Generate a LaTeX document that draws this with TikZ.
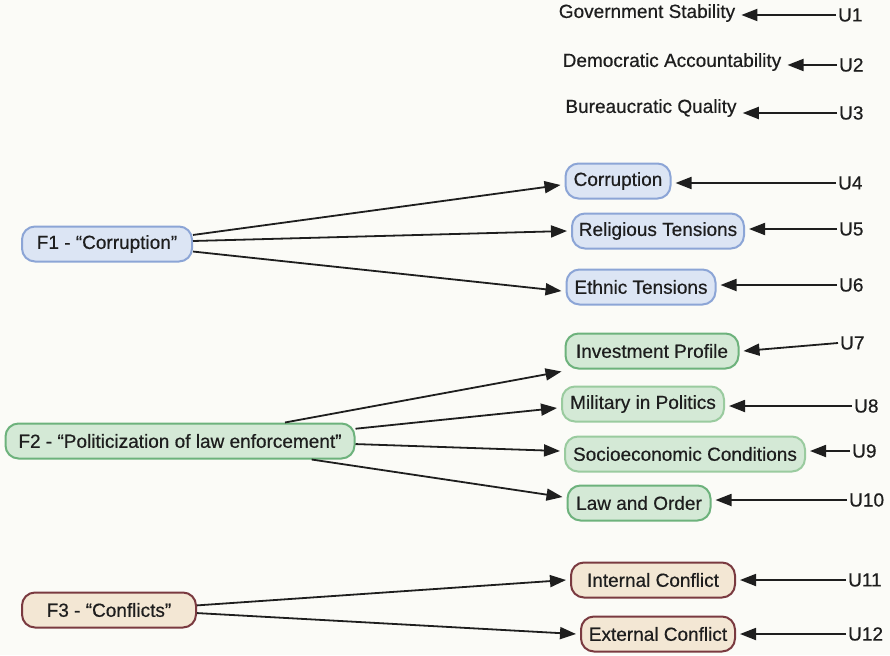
\documentclass[tikz,border=0pt]{standalone}
\usepackage{fontspec}
\setmainfont{Liberation Sans}
\newfontfamily\hv[FakeBold=0.5]{Liberation Sans}
\usetikzlibrary{arrows.meta}
\definecolor{bgc}{HTML}{FBFBF7}
\definecolor{bluefill}{HTML}{DCE5F4}
\definecolor{blueline}{HTML}{8CA5D6}
\definecolor{greenfill}{HTML}{D4E9D6}
\definecolor{greenline}{HTML}{6DB27C}
\definecolor{greenlight}{HTML}{9ACB9F}
\definecolor{tanfill}{HTML}{F3E7D4}
\definecolor{tanline}{HTML}{7A3A40}
\definecolor{ink}{HTML}{1E1E1E}
\tikzset{
  x={(1pt,0)}, y={(0,-1pt)},
  every node/.style={font=\hv\fontsize{19}{21}\selectfont, text=ink},
  pill/.style={draw, line width=2pt, rounded corners=13pt, minimum height=35pt, inner sep=0pt},
  fblue/.style={pill, fill=bluefill, draw=blueline},
  fgreen/.style={pill, fill=greenfill, draw=greenline},
  fgreenl/.style={pill, fill=greenfill, draw=greenlight},
  ftan/.style={pill, fill=tanfill, draw=tanline},
  ulab/.style={inner sep=2pt, anchor=west},
  plain/.style={inner sep=2pt},
  conn/.style={draw=ink, line width=1.8pt, -{Triangle[length=16pt,width=12pt]}},
}
\begin{document}
\begin{tikzpicture}
\fill[bgc] (0,0) rectangle (890,655);
\useasboundingbox (0,0) rectangle (890,655);

% top plain indicators
\node[plain] (gs) at (647,13) {Government Stability};
\node[plain] (da) at (672,62) {Democratic Accountability};
\node[plain] (bq) at (651,108) {Bureaucratic Quality};

% blue group
\node[fblue, minimum width=105pt] (cor) at (618,181) {Corruption};
\node[fblue, minimum width=172pt] (rel) at (658,231) {Religious Tensions};
\node[fblue, minimum width=149pt] (eth) at (641,287) {Ethnic Tensions};
\node[fblue, minimum width=170pt] (f1) at (107,244) {F1 - “Corruption”};

% green group
\node[fgreen, minimum width=173pt] (inv) at (652,351) {Investment Profile};
\node[fgreenl, minimum width=162pt] (mil) at (643,404) {Military in Politics};
\node[fgreenl, minimum width=240pt] (soc) at (685,454) {Socioeconomic Conditions};
\node[fgreen, minimum width=143pt] (law) at (639,503) {Law and Order};
\node[fgreen, minimum width=349pt] (f2) at (180,441) {F2 - “Politicization of law enforcement”};

% tan group
\node[ftan, minimum width=164pt] (int) at (653,580) {Internal Conflict};
\node[ftan, minimum width=154pt] (ext) at (658,634) {External Conflict};
\node[ftan, minimum width=174pt] (f3) at (109,610) {F3 - “Conflicts”};

% U labels
\node[ulab] (u1) at (836,15) {U1};
\node[ulab] (u2) at (837,65) {U2};
\node[ulab] (u3) at (837,113) {U3};
\node[ulab] (u4) at (836,183) {U4};
\node[ulab] (u5) at (837,229) {U5};
\node[ulab] (u6) at (837,285) {U6};
\node[ulab] (u7) at (838,343) {U7};
\node[ulab] (u8) at (852,406) {U8};
\node[ulab] (u9) at (850,451) {U9};
\node[ulab] (u10) at (847,500) {U10};
\node[ulab] (u11) at (846,580) {U11};
\node[ulab] (u12) at (846,634) {U12};

% U arrows
\draw[conn] (u1.west) -- ([xshift=4pt]gs.east |- u1.west);
\draw[conn] (u2.west) -- ([xshift=4pt]da.east |- u2.west);
\draw[conn] (u3.west) -- ([xshift=4pt]bq.east |- u3.west);
\draw[conn] (u4.west) -- ([xshift=4pt]cor.east |- u4.west);
\draw[conn] (u5.west) -- ([xshift=4pt]rel.east |- u5.west);
\draw[conn] (u6.west) -- ([xshift=4pt]eth.east |- u6.west);
\draw[conn] (u7.west) -- ([xshift=4pt]inv.east);
\draw[conn] (u8.west) -- ([xshift=4pt]mil.east |- u8.west);
\draw[conn] (u9.west) -- ([xshift=4pt]soc.east |- u9.west);
\draw[conn] (u10.west) -- ([xshift=4pt]law.east |- u10.west);
\draw[conn] (u11.west) -- ([xshift=4pt]int.east);
\draw[conn] (u12.west) -- ([xshift=4pt]ext.east);

% factor arrows
\draw[conn] (f1.6) -- ([xshift=-4pt,yshift=-4pt]cor.west);
\draw[conn] (f1.2) -- ([xshift=-4pt]rel.west);
\draw[conn] (f1.-5) -- ([xshift=-4pt,yshift=-4pt]eth.west);

\draw[conn] (f2.10) -- ([xshift=-3pt,yshift=-2pt]inv.south west);
\draw[conn] (f2.4) -- ([xshift=-4pt,yshift=-4pt]mil.west);
\draw[conn] (f2.-1.5) -- ([xshift=-4pt,yshift=3pt]soc.west);
\draw[conn] (f2.-8) -- ([xshift=-4pt,yshift=6pt]law.west);

\draw[conn] (f3.3) -- ([xshift=-4pt]int.west);
\draw[conn] (f3.-2) -- ([xshift=-4pt]ext.west);
\end{tikzpicture}
\end{document}
